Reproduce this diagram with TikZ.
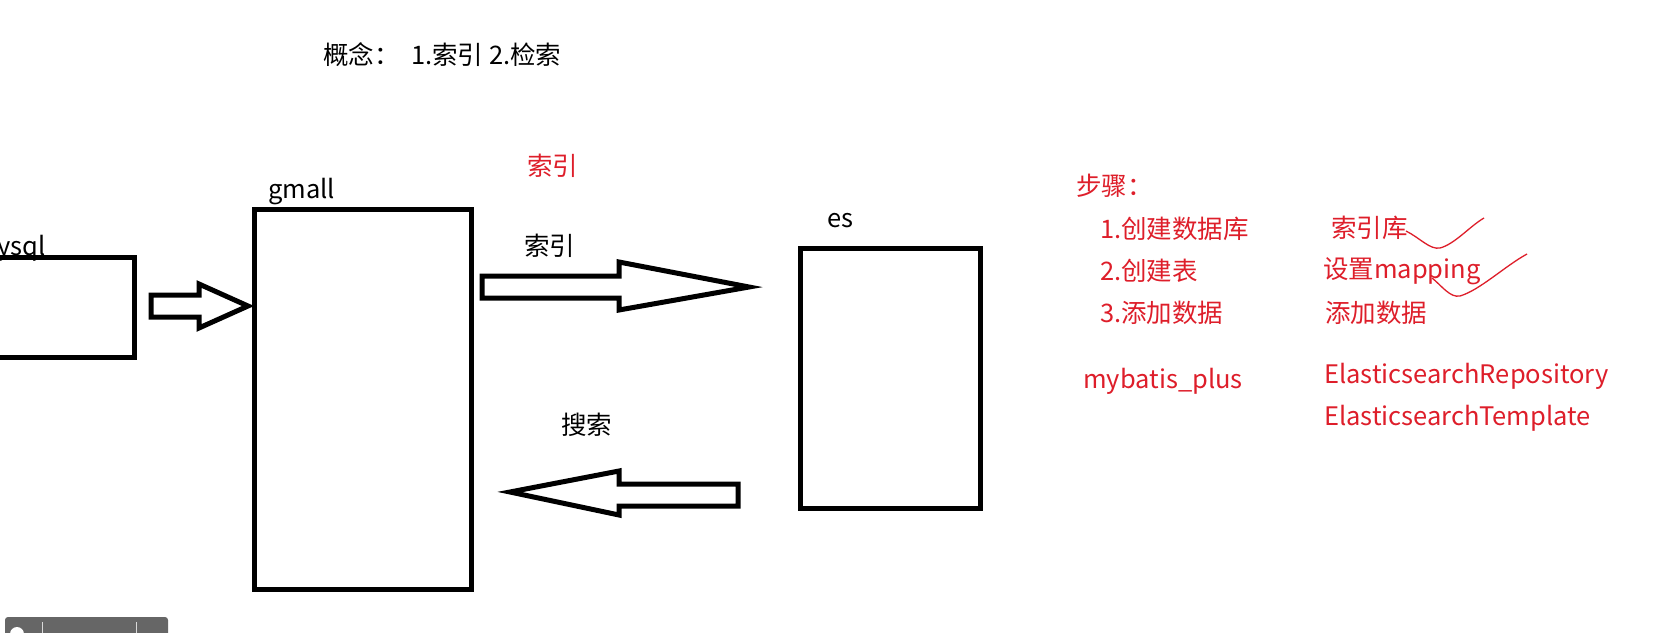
\documentclass[tikz,border=0pt]{standalone}
\usepackage{fontspec}
\setmainfont{Noto Sans CJK SC}
\definecolor{inkred}{RGB}{222,30,42}
\definecolor{uigray}{RGB}{102,102,102}
\begin{document}
\begin{tikzpicture}[x=1pt,y=-1pt,
  txt/.style={inner sep=0pt,anchor=west,font=\fontsize{25.5}{30}\selectfont},
  redtxt/.style={txt,text=inkred},
  boxline/.style={draw=black,line width=5pt},
  blockarrow/.style={draw=black,line width=5pt,line join=miter,fill=white},
  squig/.style={draw=inkred,line width=1.3pt}]
\useasboundingbox (0,0) rectangle (1659,632);
\fill[white] (0,0) rectangle (1659,632);

% title
\node[txt] (title) at (323,55) {概念：\ \ 1.索引 2.检索};

% boxes
\draw[boxline] (-10,257) rectangle (134,357);
\node[txt] (mysql) at (-3,248) {ysql};
\draw[boxline] (254,209) rectangle (471,589);
\node[txt] (gmall) at (268,192) {gmall};
\draw[boxline] (800,248) rectangle (980,508);
\node[txt] (es) at (827,221) {es};

% labels
\node[redtxt] (idxred) at (527,166) {索引};
\node[txt] (idx) at (524,246) {索引};
\node[txt] (search) at (561,425) {搜索};

% arrow mysql -> gmall
\draw[blockarrow] (151,295) -- (199,295) -- (199,284) -- (248,306) -- (199,328) -- (199,317) -- (151,317) -- cycle;
% arrow gmall -> es
\draw[blockarrow] (482,276) -- (619,276) -- (619,262) -- (749,287) -- (619,310) -- (619,298) -- (482,298) -- cycle;
% arrow es -> gmall
\draw[blockarrow] (738,484) -- (619,484) -- (619,471) -- (510,492) -- (619,515) -- (619,506) -- (738,506) -- cycle;

% steps
\node[redtxt] (steps) at (1076,186) {步骤：};
\node[redtxt] (s1) at (1100,229) {1.创建数据库};
\node[redtxt] (s2) at (1100,271) {2.创建表};
\node[redtxt] (s3) at (1100,313) {3.添加数据};
\node[redtxt] (mp) at (1083,381) {mybatis\_plus};
\node[redtxt] (r1) at (1331,228) {索引库};
\node[redtxt] (r2) at (1323,271) {设置mapping};
\node[redtxt] (r3) at (1325,313) {添加数据};
\node[redtxt] (er) at (1324,376) {ElasticsearchRepository};
\node[redtxt] (et) at (1324,418) {ElasticsearchTemplate};

% hand-drawn ticks
\draw[squig] (1406,231) .. controls (1420,238) and (1430,250) .. (1440,248) .. controls (1455,244) and (1470,226) .. (1484,218);
\draw[squig] (1432,278) .. controls (1442,286) and (1450,298) .. (1460,296) .. controls (1480,290) and (1505,266) .. (1527,254);

% player overlay
\fill[uigray,rounded corners=3pt] (5,617) rectangle (168,645);
\fill[white] (17,634) circle (7);
\draw[white!75!uigray,line width=0.8pt] (42,622) -- (42,640);
\draw[white!75!uigray,line width=0.8pt] (136,622) -- (136,640);
\end{tikzpicture}
\end{document}
